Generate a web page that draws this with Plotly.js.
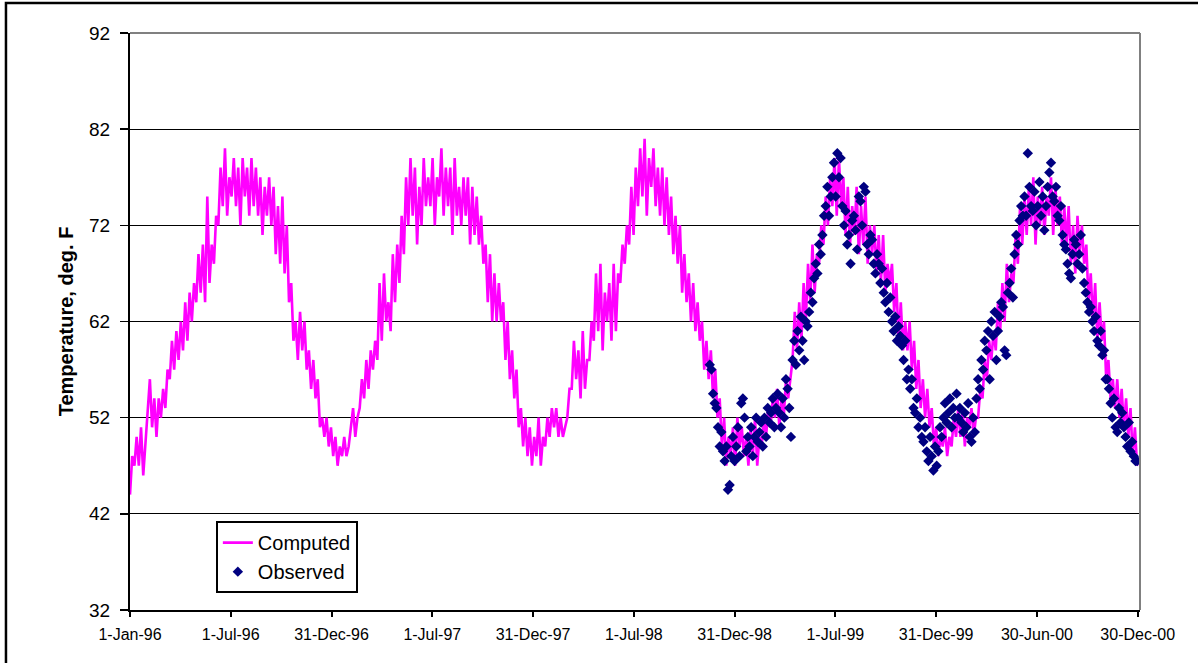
<!DOCTYPE html>
<html>
<head>
<meta charset="utf-8">
<script src="https://cdn.plot.ly/plotly-3.0.1.min.js"></script>
<style>
  html, body { margin: 0; padding: 0; background: #fff; }
  #chart { width: 1198px; height: 663px; }
</style>
</head>
<body>
<div id="chart"></div>
<script>
// ---- Data ----
// Computed temperature, deg F, sampled every 4 days from 1-Jan-96
const computedStart = '1996-01-01';
const computedStepDays = 4;
const computed = [
  44,48,47,50,47,51,46,49,
  52,56,51,54,50,54,52,55,
  53,57,56,60,57,61,58,62,
  59,64,60,65,62,66,64,69,
  65,70,64,75,66,70,68,73,
  72,78,74,80,73,77,75,79,
  74,78,72,79,75,78,73,79,
  74,78,73,77,71,76,73,77,
  72,76,69,74,68,75,67,72,
  64,66,60,62,58,63,59,62,
  57,59,55,58,54,56,51,52,
  50,52,49,51,48,50,47,49,
  48,50,48,49,51,53,50,52,
  53,56,54,58,55,59,57,60,
  58,66,60,67,62,64,61,69,
  64,70,66,73,69,77,72,79,
  73,78,70,76,72,79,74,77,
  74,79,72,77,75,80,73,78,
  74,78,71,79,73,76,72,77,
  73,77,70,76,71,75,70,73,
  68,70,64,69,62,67,62,66,
  62,64,58,62,56,59,54,57,
  51,53,49,52,48,51,47,50,
  48,52,47,50,49,52,50,53,
  51,53,50,52,50,51,52,55,
  55,60,56,59,54,61,55,58,
  58,62,60,67,61,68,59,65,
  62,66,60,68,61,67,66,70,
  68,72,70,76,71,78,74,80,
  75,81,73,79,76,80,74,78,
  73,78,72,77,71,75,69,73,
  68,72,65,69,64,67,62,66,
  61,64,60,62,57,60,56,59,
  54,57,52,54,49,52,47,50,
  48,51,47,52,49,51,48,50,
  47,51,48,52,47,50,49,52,
  50,53,51,54,52,55,51,54,
  52,56,54,56,58,63,59,64,
  60,66,62,68,64,70,65,69,
  68,72,70,75,72,77,74,79,
  73,79,74,77,71,76,70,74,
  71,76,69,74,70,75,68,72,
  69,72,67,71,66,71,65,68,
  66,68,63,66,60,64,59,62,
  59,62,57,60,55,58,53,56,
  52,55,51,53,49,51,48,50,
  49,51,48,50,49,52,50,53,
  50,53,49,52,51,53,50,52,
  52,55,54,58,56,60,58,61,
  59,64,61,66,62,68,64,67,
  66,71,68,74,70,75,71,76,
  72,77,70,75,72,76,71,75,
  73,77,71,76,72,75,70,74,
  70,74,68,72,67,73,69,72,
  68,70,64,67,62,66,60,64,
  60,62,56,58,54,56,53,56,
  52,55,51,54,50,53,48,51,
  47
];

// Observed temperature, deg F, every 3 days from 16-Nov-98
const observedStart = '1998-11-16';
const observedStepDays = 3;
const observed = [
  57.5,57,54.5,53.5,53,51,49,50.5,48.5,47.5,
  49,44.5,45,48,50,47.5,49,51,48,53.5,
  54,52,48.5,50,49,51,48,50,52,49.5,
  50.5,51.5,49,52,50,53,51.5,52.5,54,51,
  53,54.5,52.5,51,54,52,56,55,53,50,
  58,60,57.5,61,59,62.5,60,58,62,61.5,
  63,65,64,66.5,68,67,70,69,71,73,
  74,76,73,75,77,78.5,75,79.5,77,79,
  74,72,73.5,70,71,68,72.5,73,71.5,69.5,
  75,74.5,72,76,75.5,70,69,71,70.5,68,
  67,69,68,66,67.5,65,64,66,63,64.5,
  62,61,62.5,60,61.5,60.5,59.5,58,60,56,
  57,55,56,53,52.5,54,51,52,50,49.5,
  51,48.5,47.5,50,48,46.5,49,47,48.5,51,
  50,52,53.5,51.5,52.5,54,51,53,52,54.5,
  52,53,51.5,50.5,52.5,51,53.5,50,49.5,52,
  50.5,54,56,55,58,57,60,59,61,56,
  62,60.5,63,58,61,62.5,64,63.5,59,58.5,
  65,66,67.5,64.5,69,71,70,72.5,74,73,
  75,73,79.5,76,74,73.5,75.5,72,74,76.5,
  73,75,71.5,74,76,77.5,78.5,75,74.5,76,
  73,72.5,74,71,70,69.5,68,67,66.5,69,
  70.5,70,68,69,71,67.5,66,65,64,63,
  63.5,62,61,62.5,60,59.5,61,58.5,59,56,
  56,55,53.5,52,54,51,50.5,53,51.5,52.5,
  51,50,49,51.5,48.5,49.5,48,47.5,47.5
];

// Axis ticks
const xTickDates = ['1996-01-01','1996-07-01 12:00','1996-12-31','1997-07-01 12:00','1997-12-31',
  '1998-07-01 12:00','1998-12-31','1999-07-01 12:00','1999-12-31','2000-06-30 12:00','2000-12-30'];
const xTickLabels = ['1-Jan-96','1-Jul-96','31-Dec-96','1-Jul-97','31-Dec-97','1-Jul-98',
  '31-Dec-98','1-Jul-99','31-Dec-99','30-Jun-00','30-Dec-00'];
const yTicks = [32,42,52,62,72,82,92];

// ---- Build date arrays ----
function dateSeries(start, stepDays, n) {
  const t0 = Date.parse(start + 'T00:00:00Z');
  const out = [];
  for (let i = 0; i < n; i++) {
    out.push(new Date(t0 + i * stepDays * 86400000).toISOString().slice(0, 10));
  }
  return out;
}

const font = 'Arial, "Liberation Sans", sans-serif';

const traces = [
  {
    name: 'Computed',
    type: 'scatter',
    mode: 'lines',
    x: dateSeries(computedStart, computedStepDays, computed.length),
    y: computed,
    line: { color: '#FF00FF', width: 2.6 }
  },
  {
    name: 'Observed',
    type: 'scatter',
    mode: 'markers',
    x: dateSeries(observedStart, observedStepDays, observed.length),
    y: observed,
    marker: { symbol: 'diamond', color: '#000080', size: 8 }
  }
];

const layout = {
  width: 1198,
  height: 663,
  margin: { l: 130, r: 58, t: 33, b: 53 },
  paper_bgcolor: '#ffffff',
  plot_bgcolor: '#ffffff',
  font: { family: font, color: '#000000' },
  showlegend: true,
  legend: {
    x: 0.085, y: 0.154, xanchor: 'left', yanchor: 'top',
    bgcolor: '#ffffff', bordercolor: '#000000', borderwidth: 2,
    font: { family: font, size: 20, color: '#000000' },
    itemwidth: 30
  },
  xaxis: {
    type: 'date',
    range: ['1996-01-01', '2001-01-03 05:00'],
    tickmode: 'array',
    tickvals: xTickDates,
    ticktext: xTickLabels,
    ticks: 'outside', ticklen: 5, tickwidth: 2, tickcolor: '#000000',
    tickfont: { family: font, size: 16, color: '#000000' },
    ticklabelstandoff: 4,
    showgrid: false, zeroline: false,
    showline: true, linecolor: '#000000', linewidth: 2
  },
  yaxis: {
    range: [32, 92],
    tickmode: 'array',
    tickvals: yTicks,
    ticks: 'outside', ticklen: 8, tickwidth: 1.5, tickcolor: '#000000',
    tickfont: { family: font, size: 19, color: '#000000' },
    ticklabelstandoff: 6,
    showgrid: true, gridcolor: '#000000', gridwidth: 1,
    zeroline: false,
    showline: true, linecolor: '#000000', linewidth: 2,
    title: { text: '<b>Temperature, deg. F</b>', font: { family: font, size: 20, color: '#000000' }, standoff: 10 }
  },
  shapes: [
    { type: 'line', xref: 'paper', yref: 'paper', x0: 0, x1: 1, y0: 1, y1: 1,
      line: { color: '#808080', width: 2 } },
    { type: 'line', xref: 'paper', yref: 'paper', x0: 1, x1: 1, y0: 0, y1: 1,
      line: { color: '#808080', width: 2 } },
    { type: 'rect', xref: 'paper', yref: 'paper', x0: -0.1228, x1: 1.07, y0: -0.11, y1: 1.052,
      line: { color: '#000000', width: 2.5 }, fillcolor: 'rgba(0,0,0,0)' }
  ]
};

Plotly.newPlot('chart', traces, layout, { displayModeBar: false, staticPlot: true });
</script>
</body>
</html>
